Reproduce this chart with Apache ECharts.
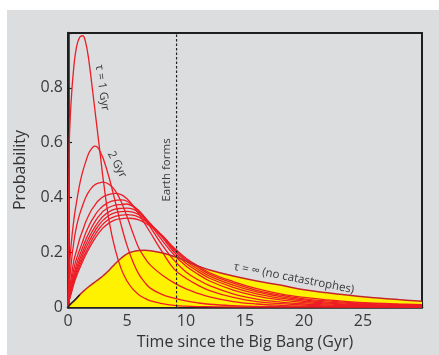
<!DOCTYPE html>
<html>
<head>
<meta charset="utf-8">
<script src="https://cdn.jsdelivr.net/npm/echarts@6/dist/echarts.min.js"></script>
<style>
  html, body { margin: 0; padding: 0; background: #ffffff; }
  #chart { width: 439px; height: 355px; position: relative; }
</style>
</head>
<body>
<div id="chart"></div>
<script>
// ---- Data ----
const times = [0, 0.1, 0.25, 0.5, 0.75, 1, 1.25, 1.5, 1.75, 2, 2.25, 2.5, 2.75, 3, 3.5, 4, 4.5, 5, 5.5, 6, 6.5, 7, 8, 9, 10, 11, 12, 14, 16, 18, 20, 22, 24, 26, 28, 30];

const tau1  = [0, 0.58, 0.74, 0.88, 0.955, 0.985, 0.99, 0.965, 0.905, 0.82, 0.73, 0.64, 0.55, 0.46, 0.31, 0.21, 0.14, 0.095, 0.065, 0.045, 0.032, 0.022, 0.012, 0.006, 0.003, 0.0015, 0.001, 0, 0, 0, 0, 0, 0, 0, 0, 0];
const tau2  = [0, 0.12, 0.22, 0.32, 0.39, 0.45, 0.495, 0.53, 0.56, 0.578, 0.587, 0.583, 0.565, 0.54, 0.47, 0.385, 0.3, 0.225, 0.165, 0.12, 0.09, 0.068, 0.045, 0.032, 0.022, 0.015, 0.01, 0.005, 0.002, 0.001, 0.0005, 0, 0, 0, 0, 0];
const tau3  = [0, 0.07, 0.15, 0.24, 0.3, 0.34, 0.372, 0.4, 0.42, 0.435, 0.445, 0.451, 0.454, 0.456, 0.447, 0.425, 0.385, 0.33, 0.27, 0.215, 0.18, 0.152, 0.116, 0.088, 0.066, 0.05, 0.037, 0.02, 0.011, 0.006, 0.003, 0.0015, 0.001, 0, 0, 0];
const tau4  = [0, 0.05, 0.1, 0.17, 0.21, 0.25, 0.28, 0.31, 0.334, 0.355, 0.37, 0.385, 0.395, 0.403, 0.411, 0.415, 0.41, 0.395, 0.37, 0.34, 0.305, 0.27, 0.2, 0.138, 0.105, 0.08, 0.06, 0.035, 0.02, 0.012, 0.007, 0.004, 0.0025, 0.0015, 0.001, 0.0006];
const tau5  = [0, 0.04, 0.08, 0.14, 0.18, 0.21, 0.24, 0.27, 0.294, 0.315, 0.332, 0.348, 0.36, 0.37, 0.383, 0.389, 0.391, 0.386, 0.37, 0.35, 0.322, 0.29, 0.225, 0.17, 0.128, 0.1, 0.078, 0.048, 0.029, 0.018, 0.011, 0.007, 0.0045, 0.003, 0.002, 0.0015];
const tau6  = [0, 0.035, 0.07, 0.12, 0.16, 0.19, 0.218, 0.245, 0.268, 0.29, 0.309, 0.325, 0.338, 0.35, 0.364, 0.372, 0.374, 0.376, 0.367, 0.352, 0.328, 0.3, 0.242, 0.19, 0.15, 0.12, 0.095, 0.062, 0.04, 0.026, 0.016, 0.011, 0.007, 0.005, 0.0035, 0.0025];
const tau7  = [0, 0.03, 0.06, 0.11, 0.145, 0.175, 0.202, 0.228, 0.251, 0.272, 0.29, 0.306, 0.32, 0.332, 0.348, 0.357, 0.36, 0.361, 0.357, 0.345, 0.327, 0.303, 0.253, 0.2, 0.16, 0.13, 0.105, 0.072, 0.048, 0.032, 0.021, 0.014, 0.01, 0.007, 0.005, 0.004];
const tau8  = [0, 0.027, 0.055, 0.1, 0.135, 0.163, 0.189, 0.214, 0.236, 0.257, 0.275, 0.292, 0.306, 0.318, 0.335, 0.344, 0.348, 0.349, 0.346, 0.337, 0.322, 0.303, 0.258, 0.207, 0.168, 0.138, 0.113, 0.08, 0.055, 0.038, 0.026, 0.018, 0.013, 0.009, 0.007, 0.005];
const tau9  = [0, 0.025, 0.05, 0.092, 0.125, 0.152, 0.177, 0.2, 0.222, 0.243, 0.261, 0.278, 0.292, 0.304, 0.321, 0.331, 0.335, 0.337, 0.335, 0.328, 0.316, 0.3, 0.26, 0.212, 0.174, 0.145, 0.12, 0.087, 0.061, 0.043, 0.03, 0.022, 0.016, 0.012, 0.009, 0.007];
const tau10 = [0, 0.023, 0.046, 0.085, 0.116, 0.142, 0.167, 0.19, 0.211, 0.23, 0.248, 0.264, 0.278, 0.29, 0.307, 0.318, 0.322, 0.324, 0.323, 0.318, 0.308, 0.295, 0.26, 0.215, 0.178, 0.15, 0.125, 0.093, 0.067, 0.048, 0.035, 0.026, 0.019, 0.014, 0.011, 0.009];
const tauInf = [0, 0.005, 0.012, 0.022, 0.033, 0.045, 0.055, 0.065, 0.074, 0.082, 0.09, 0.098, 0.106, 0.115, 0.135, 0.158, 0.178, 0.194, 0.202, 0.206, 0.207, 0.205, 0.197, 0.184, 0.168, 0.15, 0.135, 0.113, 0.095, 0.08, 0.063, 0.052, 0.042, 0.034, 0.027, 0.021];

const redCurves = [tau1, tau2, tau3, tau4, tau5, tau6, tau7, tau8, tau9, tau10];
const earthForms = 9.2;

const xTicks = [0, 5, 10, 15, 20, 25];
const yTicks = [0, 0.2, 0.4, 0.6, 0.8];

// annotations: [text, x (Gyr), y (probability), rotation (deg)]
const notes = [
  ['τ = 1 Gyr', 2.9, 0.80, -82],
  ['2 Gyr', 4.15, 0.52, -62],
  ['Earth forms', 8.4, 0.50, 90],
  ['τ = ∞ (no catastrophes)', 19.15, 0.105, -11]
];

// ---- Chart ----
const pairs = arr => times.map((t, i) => [t, arr[i]]);
const chart = echarts.init(document.getElementById('chart'), null, { renderer: 'canvas' });
const FONT = '"Open Sans", "DejaVu Sans", sans-serif';
const SM = 0.4;

const series = [];
series.push({
  type: 'line', data: pairs(tauInf), smooth: SM, showSymbol: false, silent: true,
  lineStyle: { width: 0 }, areaStyle: { color: '#fff200', opacity: 1 }, z: 2
});
redCurves.forEach(c => series.push({
  type: 'line', data: pairs(c), smooth: SM, showSymbol: false, silent: true,
  lineStyle: { color: '#ee1c25', width: 1.3 }, z: 3
}));
series.push({
  type: 'line', data: pairs(tauInf), smooth: SM, showSymbol: false, silent: true,
  lineStyle: { color: '#c4262b', width: 1.5 }, z: 4
});
series.push({
  type: 'line', data: pairs(tauInf).slice(0, 6), smooth: SM, showSymbol: false, silent: true,
  lineStyle: { color: '#222222', width: 1.5 }, z: 5
});
series.push({
  type: 'line', data: [[earthForms, 0], [earthForms, 1]], showSymbol: false, silent: true,
  lineStyle: { color: '#222222', width: 1.2, type: [2.5, 2] }, z: 6
});

const bgRect = {
  type: 'rect', left: 7, top: 10, z: -100, silent: true,
  shape: { width: 432, height: 345 }, style: { fill: '#dcdddf' }
};

chart.setOption({
  animation: false,
  backgroundColor: 'transparent',
  graphic: [bgRect],
  grid: { left: 68, top: 33, right: 17, bottom: 47, show: true, borderColor: '#1e1e1e', borderWidth: 2, backgroundColor: 'transparent' },
  xAxis: {
    type: 'value', min: 0, max: 30, interval: 5,
    name: 'Time since the Big Bang (Gyr)', nameLocation: 'middle', nameGap: 27,
    nameTextStyle: { fontFamily: FONT, fontSize: 16, color: '#333333' },
    axisLine: { show: true, onZero: false, lineStyle: { color: '#1e1e1e', width: 2.5 } },
    axisTick: { show: true, inside: true, length: 4, lineStyle: { color: '#1e1e1e', width: 1.2 } },
    axisLabel: { fontFamily: FONT, fontSize: 16, color: '#3a3a3a', margin: 6,
      formatter: v => xTicks.includes(v) ? String(v) : '' },
    splitLine: { show: false }
  },
  yAxis: {
    type: 'value', min: 0, max: 1, interval: 0.2,
    name: 'Probability', nameLocation: 'middle', nameGap: 40,
    nameTextStyle: { fontFamily: FONT, fontSize: 16, color: '#333333' },
    axisLine: { show: true, onZero: false, lineStyle: { color: '#1e1e1e', width: 2.5 } },
    axisTick: { show: true, inside: true, length: 4, lineStyle: { color: '#1e1e1e', width: 1.2 } },
    axisLabel: { fontFamily: FONT, fontSize: 16, color: '#3a3a3a', margin: 5,
      formatter: v => { const m = yTicks.find(t => Math.abs(t - v) < 1e-6); return m === undefined ? '' : String(m); } },
    splitLine: { show: false }
  },
  series
});

// annotation texts placed through the axes' scales
const g = [bgRect];
notes.forEach(([txt, x, y, rot]) => {
  const p = chart.convertToPixel({ gridIndex: 0 }, [x, y]);
  g.push({
    type: 'text', x: p[0], y: p[1], rotation: rot * Math.PI / 180, z: 100, silent: true,
    style: { text: txt, fontFamily: FONT, fontSize: 11.5, fill: '#3a3a3a', align: 'center', verticalAlign: 'middle' }
  });
});
chart.setOption({ graphic: g }, { replaceMerge: ['graphic'] });
</script>
</body>
</html>
